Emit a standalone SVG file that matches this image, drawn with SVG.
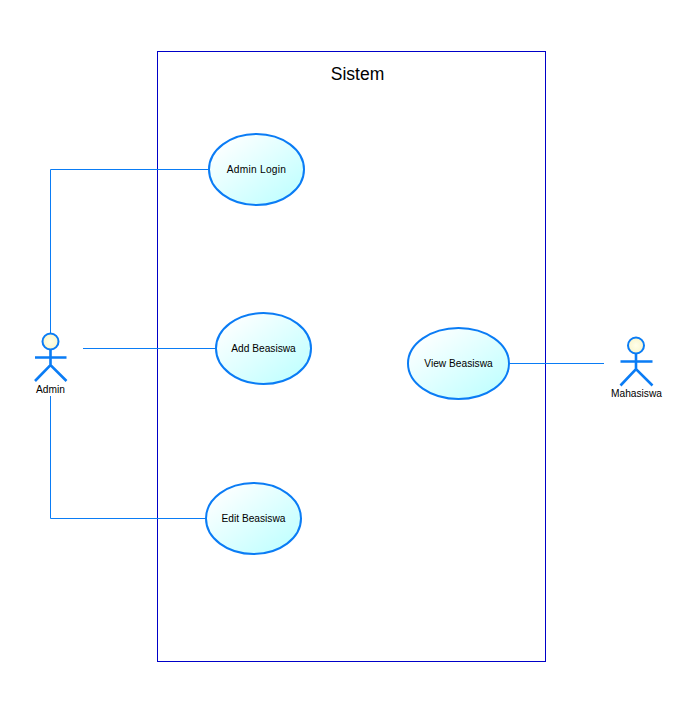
<svg xmlns="http://www.w3.org/2000/svg" width="695" height="704" viewBox="0 0 695 704">
<defs>
<linearGradient id="uc" x1="0" y1="0" x2="1" y2="1"><stop offset="0.1" stop-color="#ffffff"/><stop offset="0.9" stop-color="#c0ffff"/></linearGradient>
<radialGradient id="hd" cx="0.5" cy="0.5" r="0.6"><stop offset="0" stop-color="#ffffea"/><stop offset="1" stop-color="#f8f4c8"/></radialGradient>
</defs>
<style>
text{font-family:"Liberation Sans",Arial,sans-serif;fill:#000;text-anchor:middle}
.lbl{font-size:10.2px}
.uc{fill:url(#uc);stroke:#0a7cf5;stroke-width:2}
.head{fill:url(#hd);stroke:#0a7cf5;stroke-width:2}
.limb{fill:none;stroke:#0a7cf5;stroke-width:2.6}
.conn{fill:none;stroke:#0a7cf5;stroke-width:1}
</style>
<rect width="695" height="704" fill="#fff"/>
<g id="system">
<rect x="157.500" y="51.500" width="388" height="610" fill="#fff" stroke="#0000c8" stroke-width="1"/>
<text x="357.500" y="79.500" font-size="17.500">Sistem</text>
</g>
<g id="connectors">
<path class="conn" d="M50.500 333V169.500H208"/>
<path class="conn" d="M83 348.500H216"/>
<path class="conn" d="M50.500 396V518.500H206"/>
<path class="conn" d="M510 363.500H604"/>
</g>
<g id="uc-admin-login"><ellipse class="uc" cx="256.500" cy="169.500" rx="47.500" ry="35.500"/><text class="lbl" x="256.500" y="173" letter-spacing="0.250">Admin Login</text></g>
<g id="uc-add-beasiswa"><ellipse class="uc" cx="263.500" cy="348.500" rx="47.500" ry="35.500"/><text class="lbl" x="263.500" y="352">Add Beasiswa</text></g>
<g id="uc-edit-beasiswa"><ellipse class="uc" cx="253.500" cy="518.500" rx="47.500" ry="35.500"/><text class="lbl" x="253.500" y="522">Edit Beasiswa</text></g>
<g id="uc-view-beasiswa"><ellipse class="uc" cx="458.500" cy="363.500" rx="50.500" ry="35.500"/><text class="lbl" x="458.500" y="367">View Beasiswa</text></g>
<g id="actor-admin">
<circle class="head" cx="50.500" cy="341.500" r="8"/>
<path class="limb" d="M50.500 349V365M35 357.500H66.500M35 381L50.500 365L66.500 381"/>
<text class="lbl" x="50.500" y="393">Admin</text>
</g>
<g id="actor-mahasiswa">
<circle class="head" cx="636" cy="345.500" r="8"/>
<path class="limb" d="M636 353.500V369M620.500 361.500H652.500M620.500 385.500L636 369L652.500 385.500"/>
<text class="lbl" x="636.500" y="397">Mahasiswa</text>
</g>
</svg>
